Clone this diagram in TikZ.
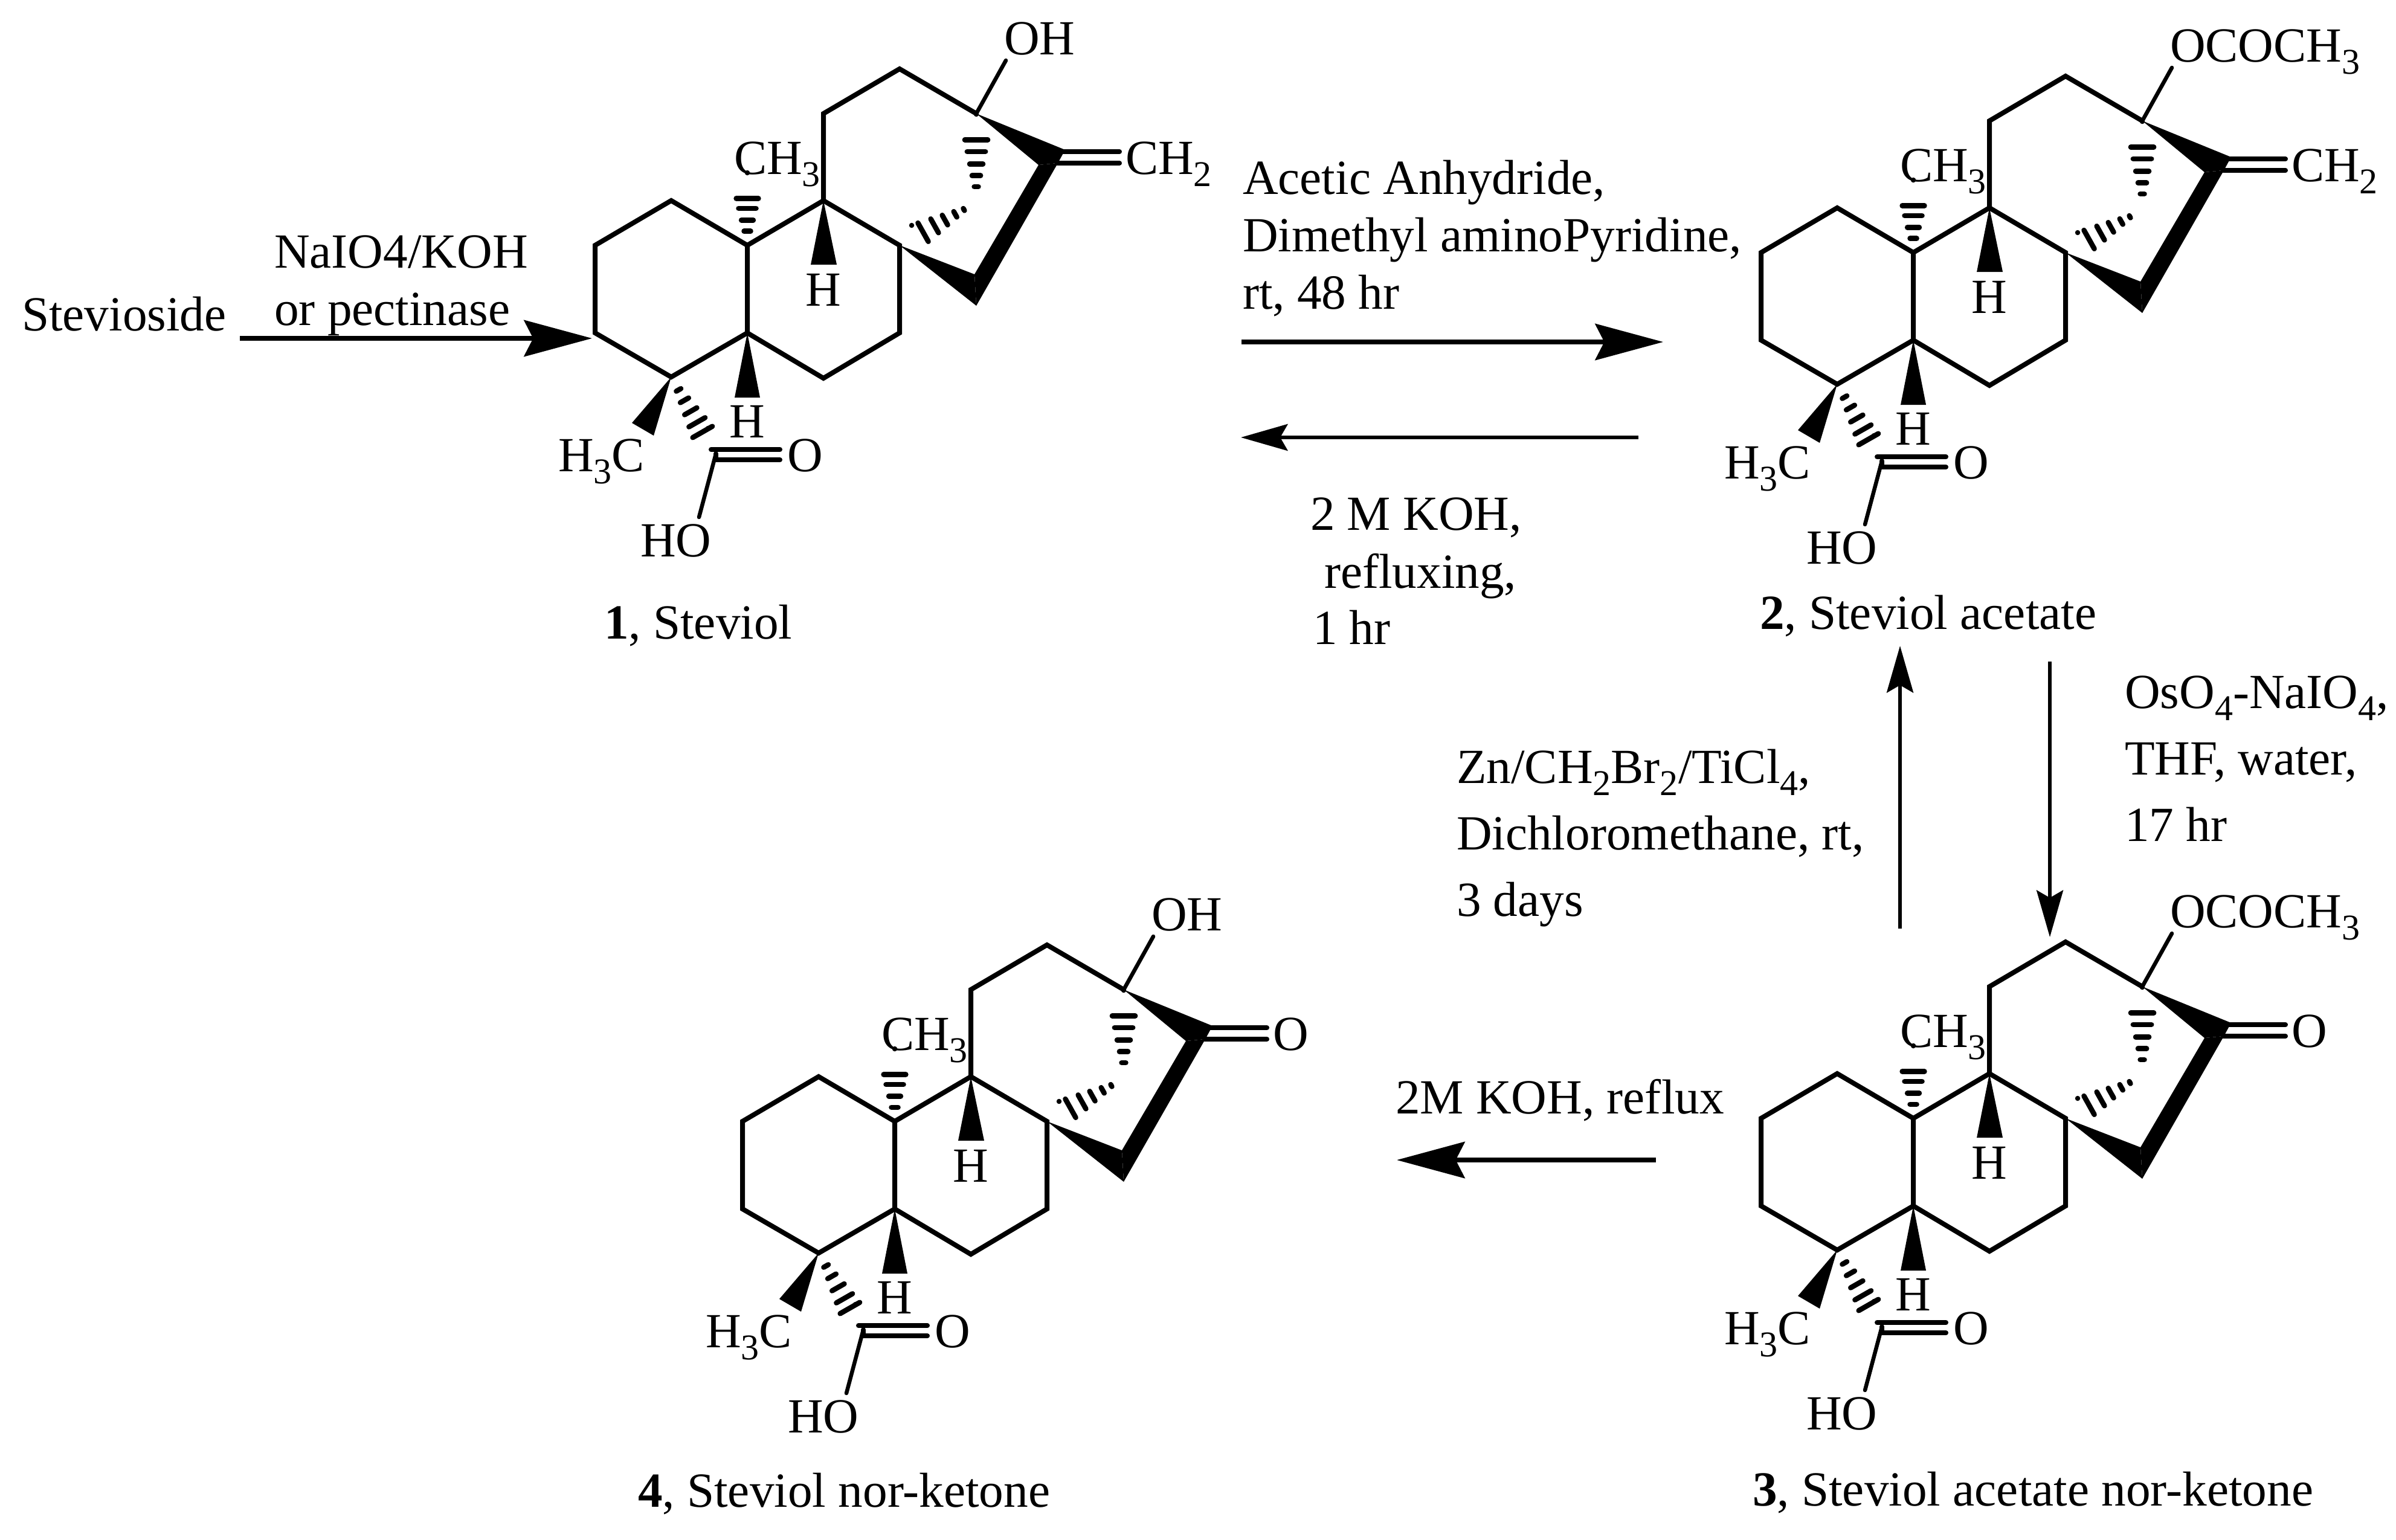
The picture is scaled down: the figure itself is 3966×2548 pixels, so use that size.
\documentclass[tikz,border=0pt]{standalone}
\usepackage{fontspec}
\setmainfont{Liberation Serif}
\usetikzlibrary{arrows.meta}
\usetikzlibrary{calc}

\newcommand{\sbs}[1]{\raisebox{-4pt}{\fontsize{12}{12}\selectfont #1}}

\tikzset{
  bond/.style={line width=1.6pt,line cap=round,line join=miter},
  hashline/.style={line width=1.7pt,line cap=round},
  lbl/.style={anchor=base west,inner sep=0pt,font=\fontsize{16.25}{19}\selectfont},
  lblc/.style={lbl,anchor=base},
  rxnbig/.style={line width=1.6pt,-{Stealth[length=22.5pt,width=12pt,inset=3pt]}},
  rxnsmall/.style={line width=1.1pt,-{Stealth[length=15.5pt,width=8.8pt,inset=2.5pt]}}
}

% #1 from, #2 to (wide end), #3 half width, #4 positions
\newcommand{\hashbond}[4]{
  \foreach \t in {#4}
    \draw[hashline] ($(#1)!\t!(#2)!\t*#3!90:(#2)$) -- ($(#1)!\t!(#2)!\t*#3!-90:(#2)$);
}

% #1,#2 place of C10, #3 name, #4 group on C13, #5 group on C16
\newcommand{\steviolmol}[5]{
  \begin{scope}[shift={(#1,#2)},name prefix=#3-]
    \coordinate (c1) at (-126,-74);
    \coordinate (c2) at (-252,0);
    \coordinate (c3) at (-252,145);
    \coordinate (c4) at (-126,218);
    \coordinate (c5) at (0,145);
    \coordinate (c6) at (126,220);
    \coordinate (c7) at (252,145);
    \coordinate (c8) at (252,0);
    \coordinate (c9) at (126,-74);
    \coordinate (c10) at (0,0);
    \coordinate (c11) at (126,-218);
    \coordinate (c12) at (252,-292);
    \coordinate (c13) at (379,-218);
    \coordinate (cooh) at (-52,345);
    % rings
    \draw[bond] (c2) -- (c1) -- (c10) -- (c5) -- (c4) -- (c3) -- cycle;
    \draw[bond] (c10) -- (c9) -- (c8) -- (c7) -- (c6) -- (c5);
    \draw[bond] (c9) -- (c11) -- (c12) -- (c13);
    % wedges
    \fill (c9) -- (105,32) -- (148,32) -- cycle;
    \fill (c5) -- (-21,252) -- (21,252) -- cycle;
    \fill (c4) -- (-191,294) -- (-155,315) -- cycle;
    \fill (c13) -- (526,-158) -- (514,-136) -- (482,-133) -- cycle;
    \fill (482,-133) -- (514,-136) -- (379,100) -- (376,48) -- cycle;
    \fill (c8) -- (376,48) -- (379,100) -- cycle;
    % hashes
    \coordinate (h1) at (0,-97);
    \coordinate (h2a) at (379,-80);
    \coordinate (h2b) at (379,-194);
    \coordinate (h3a) at (367,-64);
    \coordinate (h3b) at (272,-11);
    \coordinate (h4) at (-65,325);
    \hashbond{c10}{h1}{4.6pt}{.24,.43,.63,.8,1}
    \hashbond{h2a}{h2b}{4.6pt}{.15,.31,.48,.66,.83,1}
    \hashbond{h3a}{h3b}{4.4pt}{.09,.24,.42,.6,.8,1}
    \hashbond{c4}{h4}{4.4pt}{.2,.36,.53,.7,.85,1}
    % acid
    \draw[bond] (-60,338) -- (54,338) (cooh) -- (-52,355) -- (54,355);
    \draw[bond,line width=1.3pt] (cooh) -- (-80,450);
    % groups
    \draw[bond,line width=1.3pt] (c13) -- (428,-306);
    \draw[bond] (520,-155) -- (616,-155) (513,-136) -- (616,-136);
    \node[lbl] (me10) at (-23,-118) {CH\sbs{3}};
    \node[lblc] (h9) at (126,100) {H};
    \node[lblc] (h5) at (0,318) {H};
    \node[lbl] (me4) at (-314,374) {H\sbs{3}C};
    \node[lbl] (oxo) at (65,374) {O};
    \node[lbl] (hydroxy) at (-178,515) {HO};
    \node[lbl] (top) at (424,-316) {#4};
    \node[lbl] (exo) at (625,-118) {#5};
  \end{scope}
}

\begin{document}
\begin{tikzpicture}[x=0.2pt,y=-0.2pt]
  \useasboundingbox (0,0) rectangle (3966,2548);

  \steviolmol{1237}{406}{mol1}{OH}{CH\sbs{2}}
  \steviolmol{3167}{418}{mol2}{OCOCH\sbs{3}}{CH\sbs{2}}
  \steviolmol{3167}{1851}{mol3}{OCOCH\sbs{3}}{O}
  \steviolmol{1481}{1856}{mol4}{OH}{O}

  \node[lbl] (name1) at (999,1057) {\textbf{1}, Steviol};
  \node[lbl] (name2) at (2912,1041) {\textbf{2}, Steviol acetate};
  \node[lbl] (name3) at (2900,2492) {\textbf{3}, Steviol acetate nor-ketone};
  \node[lbl] (name4) at (1055,2494) {\textbf{4}, Steviol nor-ketone};

  \node[lbl] (stevioside) at (35,547) {Stevioside};
  \node[lbl] (cond1a) at (453,443) {NaIO4/KOH};
  \node[lbl] (cond1b) at (453,538) {or pectinase};
  \node[lbl] (cond2a) at (2056,321) {Acetic Anhydride,};
  \node[lbl] (cond2b) at (2056,416) {Dimethyl aminoPyridine,};
  \node[lbl] (cond2c) at (2056,511) {rt, 48 hr};
  \node[lbl] (cond3a) at (2168,877) {2 M KOH,};
  \node[lbl] (cond3b) at (2191,973) {refluxing,};
  \node[lbl] (cond3c) at (2172,1066) {1 hr};
  \node[lbl] (cond4a) at (3516,1172) {OsO\sbs{4}-NaIO\sbs{4},};
  \node[lbl] (cond4b) at (3516,1282) {THF, water,};
  \node[lbl] (cond4c) at (3516,1392) {17 hr};
  \node[lbl] (cond5a) at (2410,1296) {Zn/CH\sbs{2}Br\sbs{2}/TiCl\sbs{4},};
  \node[lbl] (cond5b) at (2410,1406) {Dichloromethane, rt,};
  \node[lbl] (cond5c) at (2410,1516) {3 days};
  \node[lbl] (cond6) at (2309,1843) {2M KOH, reflux};

  \coordinate (a1s) at (397,560);
  \coordinate (a1e) at (980,560);
  \coordinate (a2s) at (2055,566);
  \coordinate (a2e) at (2753,566);
  \coordinate (a3s) at (2712,724);
  \coordinate (a3e) at (2054,724);
  \coordinate (a4s) at (3393,1095);
  \coordinate (a4e) at (3393,1551);
  \coordinate (a5s) at (3145,1537);
  \coordinate (a5e) at (3145,1069);
  \coordinate (a6s) at (2741,1920);
  \coordinate (a6e) at (2312,1920);

  \draw[rxnbig] (a1s) -- (a1e);
  \draw[rxnbig] (a2s) -- (a2e);
  \draw[rxnsmall] (a3s) -- (a3e);
  \draw[rxnsmall] (a4s) -- (a4e);
  \draw[rxnsmall] (a5s) -- (a5e);
  \draw[rxnbig] (a6s) -- (a6e);
\end{tikzpicture}
\end{document}
